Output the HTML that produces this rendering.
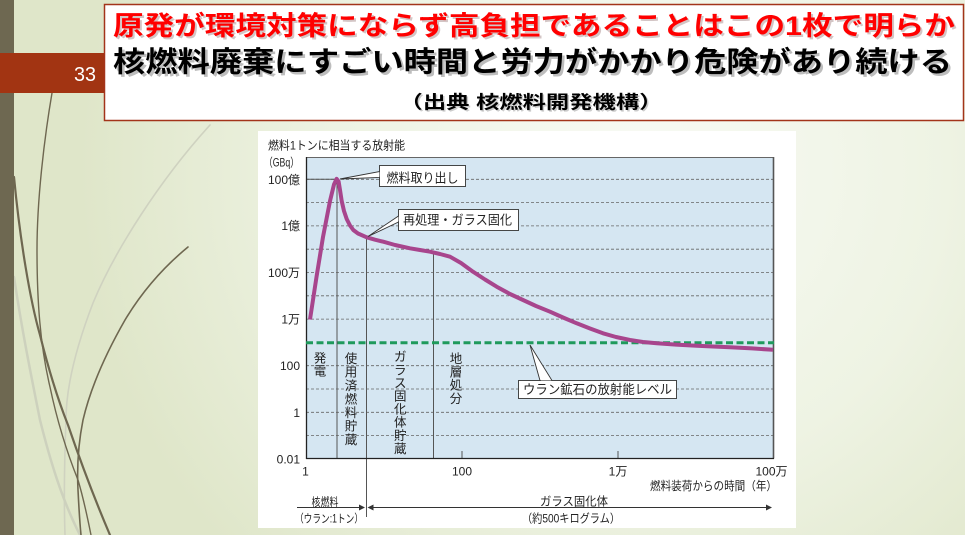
<!DOCTYPE html>
<html><head><meta charset="utf-8">
<style>
html,body{margin:0;padding:0;width:965px;height:535px;overflow:hidden;background:#eef2e4;}
svg{display:block;}
text{font-family:"Liberation Sans","Noto Sans CJK JP",sans-serif;}
</style></head>
<body>
<svg width="965" height="535" viewBox="0 0 965 535" xmlns="http://www.w3.org/2000/svg">
<defs>
<radialGradient id="bg" cx="640" cy="170" r="560" gradientUnits="userSpaceOnUse">
<stop offset="0" stop-color="#f8faf4"/>
<stop offset="0.55" stop-color="#eef3e3"/>
<stop offset="1" stop-color="#dfe6c9"/>
</radialGradient>
</defs>
<rect x="0" y="0" width="965" height="535" fill="url(#bg)"/>
<!-- decorative curves -->
<g fill="none" stroke-linecap="round">
<path d="M210,125 C160,180 115,250 93,303 C75,350 66,390 66,420 C64,470 64,505 65,535" stroke="#cfd2c0" stroke-width="1.6"/>
<path d="M14,277 C22,330 30,370 40,420 C50,460 62,500 80,535" stroke="#cdd1bd" stroke-width="2.5"/>
<path d="M52,93 C44,140 37,200 37,250 C37,300 40,345 50,387 C58,425 68,455 78,480 C84,500 88,520 91,535" stroke="#6e6750" stroke-width="1.4"/>
<path d="M14,177 C20,240 30,300 40,335 C50,375 60,405 68,425 C80,460 95,500 110,535" stroke="#6e6750" stroke-width="2.2"/>
<path d="M188,128 C165,150 150,170 138,190 C120,220 100,260 88,300 C80,330 78,360 79,400 C80,450 80,500 81,535" stroke="#cfd2c0" stroke-width="1.2" opacity="0"/>
<path d="M188,247 C160,270 140,295 125,320 C105,355 90,390 83,420 C78,445 77,470 78,490 C79,510 80,525 81,535" stroke="#6e6750" stroke-width="1.6"/>
</g>
<!-- brown strip -->
<rect x="0" y="0" width="14" height="535" fill="#6e6851"/>
<!-- red band -->
<rect x="0" y="53" width="106" height="40" fill="#a23412"/>
<text x="74" y="81" font-size="20" fill="#ffffff" textLength="22" lengthAdjust="spacingAndGlyphs">33</text>
<!-- title box -->
<rect x="104.5" y="4.5" width="859" height="116" fill="#ffffff" stroke="#a3341a" stroke-width="1.5"/>
<text x="115" y="37" font-size="26.5" font-weight="bold" fill="#a08080" opacity="0.45" textLength="842" lengthAdjust="spacingAndGlyphs">原発が環境対策にならず高負担であることはこの1枚で明らか</text>
<text x="113" y="35" font-size="26.5" font-weight="bold" fill="#ff0000" textLength="842" lengthAdjust="spacingAndGlyphs">原発が環境対策にならず高負担であることはこの1枚で明らか</text>
<text x="115.5" y="74" font-size="28.5" font-weight="bold" fill="#888888" opacity="0.55" textLength="839" lengthAdjust="spacingAndGlyphs">核燃料廃棄にすごい時間と労力がかかり危険があり続ける</text>
<text x="113" y="71.5" font-size="28.5" font-weight="bold" fill="#000000" textLength="839" lengthAdjust="spacingAndGlyphs">核燃料廃棄にすごい時間と労力がかかり危険があり続ける</text>
<text x="401" y="110" font-size="18" font-weight="bold" fill="#999999" opacity="0.5" textLength="263" lengthAdjust="spacingAndGlyphs">（出典 核燃料開発機構）</text>
<text x="399.5" y="108.5" font-size="18" font-weight="bold" fill="#000000" textLength="263" lengthAdjust="spacingAndGlyphs">（出典 核燃料開発機構）</text>

<!-- chart white panel -->
<rect x="258" y="131" width="538" height="397" fill="#ffffff"/>
<!-- plot area -->
<rect x="306" y="157" width="468" height="301.5" fill="#d5e6f2"/>
<!-- grid lines -->
<g stroke="#666666" stroke-width="0.8" stroke-dasharray="3 2">
<line x1="306" y1="179.3" x2="774" y2="179.3"/>
<line x1="306" y1="202.6" x2="774" y2="202.6"/>
<line x1="306" y1="225.9" x2="774" y2="225.9"/>
<line x1="306" y1="249.2" x2="774" y2="249.2"/>
<line x1="306" y1="272.5" x2="774" y2="272.5"/>
<line x1="306" y1="295.8" x2="774" y2="295.8"/>
<line x1="306" y1="319.1" x2="774" y2="319.1"/>
<line x1="306" y1="365.7" x2="774" y2="365.7"/>
<line x1="306" y1="389" x2="774" y2="389"/>
<line x1="306" y1="412.3" x2="774" y2="412.3"/>
<line x1="306" y1="435.6" x2="774" y2="435.6"/>
</g>
<line x1="306" y1="179.3" x2="337" y2="179.3" stroke="#555" stroke-width="1"/>
<!-- plot borders -->
<line x1="306" y1="157.5" x2="774" y2="157.5" stroke="#666" stroke-width="1"/>
<line x1="773.5" y1="157" x2="773.5" y2="458.5" stroke="#555" stroke-width="1.6"/>
<!-- vertical phase lines -->
<g stroke="#555555" stroke-width="1">
<line x1="337" y1="179" x2="337" y2="458"/>
<line x1="366.5" y1="237" x2="366.5" y2="517"/>
<line x1="433.5" y1="252" x2="433.5" y2="458"/>
<line x1="462" y1="451" x2="462" y2="458"/>
<line x1="618" y1="451" x2="618" y2="458"/>
</g>
<!-- axes -->
<line x1="306.5" y1="157" x2="306.5" y2="459" stroke="#222" stroke-width="1.3"/>
<line x1="306" y1="458.5" x2="774" y2="458.5" stroke="#222" stroke-width="1.3"/>
<!-- uranium ore level -->
<line x1="306" y1="342.7" x2="774" y2="342.7" stroke="#1f9a5c" stroke-width="3" stroke-dasharray="7 3.5"/>
<!-- curve -->
<polyline fill="none" stroke="#a8458d" stroke-width="4" stroke-linejoin="round" points="310,319.5 316.5,277 323,237 330,201 334,184.5 336.6,178.8 338.6,181.5 340,190 341.7,201 344,211 346.7,219 350,225.5 353.3,230 358,233.5 366.7,237.3 375,239.7 383.3,241.7 395,245 410,248.3 420,250 430,251.7 440,254 450,256.7 461,263 473,271.7 485,279.5 496.7,286.7 510,294 523,300 536,306 550,311.7 563,317.5 576.7,323.3 590,328.5 603,333.3 616,337 630,340 643,342 656.7,343.3 676,344.6 696.7,345.7 713,346.5 730,347.3 752,348.4 773,349.8"/>

<!-- callouts -->
<g stroke="#333" stroke-width="0.9">
<polygon points="340,179 379.5,171.5 379.5,177.5" fill="#ffffff"/>
<rect x="379.5" y="165.5" width="86" height="21" fill="#ffffff"/>
<polygon points="368,236.5 398.5,216 398.5,222" fill="#ffffff"/>
<rect x="398.5" y="209.5" width="120" height="21" fill="#ffffff"/>
<polygon points="530,345 540,380.5 552,380.5" fill="#ffffff"/>
<rect x="518.5" y="380.5" width="158" height="18" fill="#ffffff"/>
</g>
<line x1="380.2" y1="172.2" x2="380.2" y2="176.8" stroke="#fff" stroke-width="1.2"/>
<line x1="399.2" y1="216.7" x2="399.2" y2="221.3" stroke="#fff" stroke-width="1.2"/>
<line x1="540.8" y1="381.2" x2="551.2" y2="381.2" stroke="#fff" stroke-width="1.2"/>
<g fill="#222" font-size="13">
<text x="386.5" y="182.5" textLength="72" lengthAdjust="spacingAndGlyphs">燃料取り出し</text>
<text x="403" y="224.5" textLength="109" lengthAdjust="spacingAndGlyphs">再処理・ガラス固化</text>
<text x="523" y="394" textLength="149" lengthAdjust="spacingAndGlyphs">ウラン鉱石の放射能レベル</text>
</g>

<!-- vertical phase texts -->
<g fill="#222" font-size="12.5" text-anchor="middle">
<text x="320" y="362.5">発</text><text x="320" y="375.5">電</text>
<text x="351" y="363">使</text><text x="351" y="376.5">用</text><text x="351" y="390">済</text><text x="351" y="403.5">燃</text><text x="351" y="417">料</text><text x="351" y="430.5">貯</text><text x="351" y="444">蔵</text>
<text x="400.3" y="361.2">ガ</text><text x="400.3" y="374.3">ラ</text><text x="400.3" y="387.4">ス</text><text x="400.3" y="400.5">固</text><text x="400.3" y="413.6">化</text><text x="400.3" y="426.7">体</text><text x="400.3" y="439.8">貯</text><text x="400.3" y="452.9">蔵</text>
<text x="456" y="363">地</text><text x="456" y="376.3">層</text><text x="456" y="389.6">処</text><text x="456" y="402.9">分</text>
</g>

<!-- axis labels -->
<g fill="#222" font-size="12">
<text x="268" y="149.5" textLength="137" lengthAdjust="spacingAndGlyphs">燃料1トンに相当する放射能</text>
<text x="264" y="166.5" textLength="35" lengthAdjust="spacingAndGlyphs">（GBq）</text>
</g>
<g fill="#222" font-size="12" text-anchor="end">
<text x="300" y="183.8">100億</text>
<text x="300" y="230.2">1億</text>
<text x="300" y="276.8">100万</text>
<text x="300" y="323.4">1万</text>
<text x="300" y="370">100</text>
<text x="300" y="416.8">1</text>
<text x="300" y="463.5">0.01</text>
</g>
<g fill="#222" font-size="12" text-anchor="middle">
<text x="305.5" y="475.5">1</text>
<text x="462" y="475.5">100</text>
<text x="618" y="475.5">1万</text>
<text x="771.5" y="475.5">100万</text>
</g>
<g fill="#222" font-size="12">
<text x="650" y="490" textLength="127" lengthAdjust="spacingAndGlyphs">燃料装荷からの時間（年）</text>
<text x="311.5" y="506" font-size="11.5" textLength="27" lengthAdjust="spacingAndGlyphs">核燃料</text>
<text x="295" y="522.5" font-size="11.5" textLength="68" lengthAdjust="spacingAndGlyphs">（ウラン:1トン）</text>
<text x="540" y="505.5" textLength="68" lengthAdjust="spacingAndGlyphs">ガラス固化体</text>
<text x="522" y="522.5" textLength="98" lengthAdjust="spacingAndGlyphs">（約500キログラム）</text>
</g>
<!-- bottom arrows -->
<g stroke="#333" stroke-width="1">
<line x1="297" y1="507.5" x2="360" y2="507.5"/>
<line x1="372" y1="507.5" x2="767" y2="507.5"/>
</g>
<g fill="#333">
<polygon points="365,507.5 359,504.5 359,510.5"/>
<polygon points="367.5,507.5 373.5,504.5 373.5,510.5"/>
<polygon points="772,507.5 766,504.5 766,510.5"/>
</g>
</svg>
</body></html>
